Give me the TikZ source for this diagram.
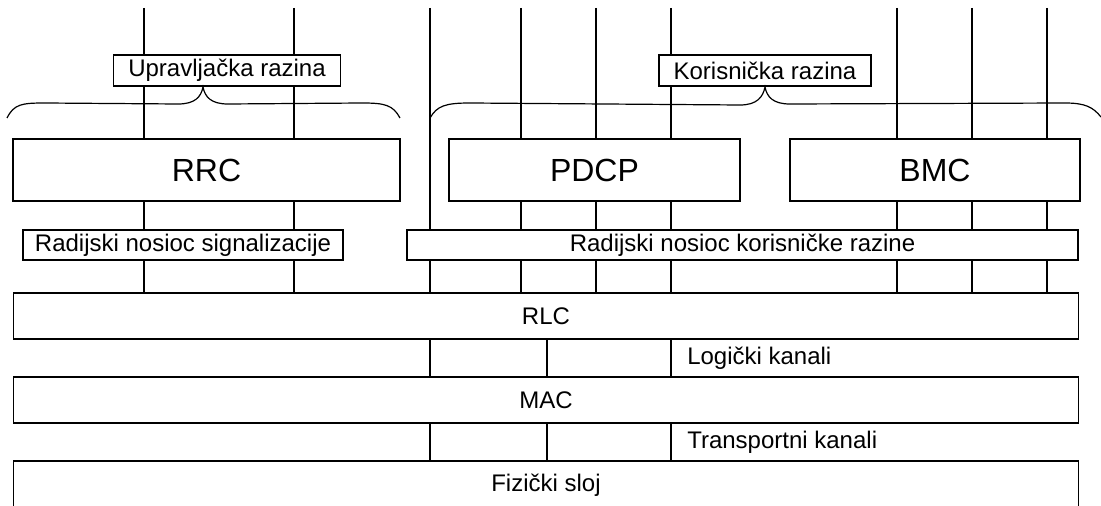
\documentclass[tikz,border=0pt]{standalone}
\usepackage{fontspec}
\setmainfont{Liberation Sans}

\begin{document}
\begin{tikzpicture}[x=0.75pt,y=0.75pt,yscale=-1,xscale=1,
	sz/.style 2 args={minimum width=#1*0.75pt,minimum height=#2*0.75pt},
	box/.style={draw,fill=white,line width=1pt,inner sep=0pt,font=\fontsize{18}{20}\selectfont},
	bigbox/.style={box,font=\fontsize{24}{28}\selectfont},
	lbl/.style={anchor=west,inner sep=0pt,font=\fontsize{18}{20}\selectfont},
	wire/.style={line width=2pt},
	brc/.style={line width=0.9pt}]
	\useasboundingbox (0,0) rectangle (1101,506);
	% tops of the channel lines
	\foreach \n/\xx in {c1/144,c2/294,d0/430,u1/521,u2/596,u3/671,b1/897,b2/972,b3/1047,m1/547}
		\coordinate (\n) at (\xx,8);
	% boxes
	\node[box,sz={227}{31}] (upr) at (227,70.5) {Upravljačka razina};
	\node[box,sz={212}{31}] (kor) at (765,70.5) {Korisnička razina};
	\node[bigbox,sz={387}{62}] (rrc) at (206.5,170) {RRC};
	\node[bigbox,sz={291}{62}] (pdcp) at (594.5,170) {PDCP};
	\node[bigbox,sz={290}{62}] (bmc) at (935,170) {BMC};
	\node[box,sz={320}{30}] (rns) at (183,245) {Radijski nosioc signalizacije};
	\node[box,sz={671}{30}] (rnk) at (742.5,245) {Radijski nosioc korisničke razine};
	\node[box,sz={1065}{46}] (rlc) at (546,316) {RLC};
	\node[box,sz={1065}{46}] (mac) at (546,400) {MAC};
	\node[box,sz={1065}{48}] (phy) at (546,485) {Fizički sloj};
	\node[lbl] (logk) at (687,358) {Logički kanali};
	\node[lbl] (trk) at (687,442) {Transportni kanali};
	% braces
	\draw[brc] (7,118) .. controls (14,104) and (22,103) .. (45,103) -- (178,104) .. controls (195,104) and (201,97) .. (203,87) .. controls (205,97) and (211,104) .. (228,104) -- (362,103) .. controls (385,103) and (393,105) .. (400,118);
	\draw[brc] (430,118) .. controls (437,106) and (445,103) .. (470,103) -- (740,105) .. controls (757,105) and (763,97) .. (765,87) .. controls (767,97) and (773,104) .. (790,104) -- (1065,103) .. controls (1085,103) and (1093,107) .. (1101,117);
	% control plane
	\foreach \n in {c1,c2}{
		\draw[wire] (\n) -- (upr.north -| \n);
		\draw[wire] (upr.south -| \n) -- (rrc.north -| \n);
		\draw[wire] (rrc.south -| \n) -- (rns.north -| \n);
		\draw[wire] (rns.south -| \n) -- (rlc.north -| \n);
	}
	% user plane
	\draw[wire] (u3) -- (kor.north -| u3);
	\draw[wire] (kor.south -| u3) -- (pdcp.north -| u3);
	\foreach \n in {u1,u2}
		\draw[wire] (\n) -- (pdcp.north -| \n);
	\foreach \n in {u1,u2,u3}{
		\draw[wire] (pdcp.south -| \n) -- (rnk.north -| \n);
		\draw[wire] (rnk.south -| \n) -- (rlc.north -| \n);
	}
	\foreach \n in {b1,b2,b3}{
		\draw[wire] (\n) -- (bmc.north -| \n);
		\draw[wire] (bmc.south -| \n) -- (rnk.north -| \n);
		\draw[wire] (rnk.south -| \n) -- (rlc.north -| \n);
	}
	\draw[wire] (d0) -- (rnk.north -| d0);
	\draw[wire] (rnk.south -| d0) -- (rlc.north -| d0);
	% logical and transport channels
	\foreach \n in {d0,m1,u3}{
		\draw[wire] (rlc.south -| \n) -- (mac.north -| \n);
		\draw[wire] (mac.south -| \n) -- (phy.north -| \n);
	}
\end{tikzpicture}
\end{document}
